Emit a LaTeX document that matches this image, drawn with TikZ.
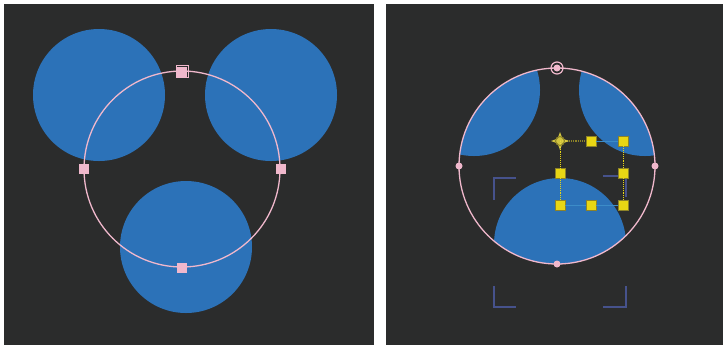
\documentclass[tikz,border=0pt]{standalone}
\usetikzlibrary{shapes.geometric}
\definecolor{bg}{RGB}{43,44,44}
\definecolor{blu}{RGB}{44,114,184}
\definecolor{pnk}{RGB}{240,184,204}
\definecolor{ylw}{RGB}{232,214,20}
\definecolor{oliv}{RGB}{140,130,40}
\definecolor{lblu}{RGB}{60,140,200}
\definecolor{brk}{RGB}{70,82,140}
\tikzset{
  sqh/.style={draw=none,fill=pnk,minimum size=10pt,inner sep=0pt},
  doth/.style={circle,fill=pnk,minimum size=7pt,inner sep=0pt},
  yh/.style={draw=oliv,line width=0.5pt,fill=ylw,minimum size=10pt,inner sep=0pt},
  ring/.style={draw=pnk,line width=1.3pt},
  dotl/.style={draw=ylw,densely dotted,line width=0.9pt},
  bl/.style={draw=lblu,line width=1pt},
  bracket/.style={draw=brk,line width=2.4pt}
}
\begin{document}
\begin{tikzpicture}[x=1pt,y=-1pt]
\useasboundingbox (0,0) rectangle (727,349);
\fill[white] (0,0) rectangle (727,349);
\fill[bg] (4,4) rectangle (374,345);
\fill[bg] (386,4) rectangle (723,345);
% left panel
\fill[blu] (99,95) circle (66);
\fill[blu] (271,95) circle (66);
\fill[blu] (186,247) circle (66);
\draw[ring] (182,169) circle (98);
\node[sqh] (lt) at (182,72) {};
\draw[pnk,line width=0.8pt] (176,65.5) rectangle (188.5,77.5);
\node[sqh] (ll) at (84,169) {};
\node[sqh] (lr) at (281,169) {};
\node[sqh] (lb) at (182,268) {};
% right panel
\begin{scope}
\clip (557,166) circle (98);
\fill[blu] (474,90) circle (66);
\fill[blu] (645,90) circle (66);
\fill[blu] (560,244) circle (66);
\end{scope}
\draw[ring] (557,166) circle (98);
\node[circle,fill=pnk,minimum size=7pt,inner sep=0pt] (rt) at (557,68) {};
\draw[pnk,line width=1.2pt] (rt) circle (6);
\node[doth] (rl) at (459,166) {};
\node[doth] (rr) at (655,166) {};
\node[doth] (rb) at (557,264) {};
% brackets
\draw[bracket] (516,178) -- (494,178) -- (494,200);
\draw[bracket] (603,176) -- (626,176) -- (626,197);
\draw[bracket] (494,286) -- (494,307) -- (516,307);
\draw[bracket] (626,286) -- (626,307) -- (603,307);
% yellow handles
\coordinate (ya) at (560,141);
\node[yh] (yb) at (591,141) {};
\node[yh] (yc) at (623,141) {};
\node[yh] (yd) at (560,173) {};
\node[yh] (ye) at (623,173) {};
\node[yh] (yf) at (560,205) {};
\node[yh] (yg) at (591,205) {};
\node[yh] (yh2) at (623,205) {};
\draw[draw=oliv,line width=1.2pt,densely dotted] (ya) -- (yb);
\draw[bl] (yb) -- (yc);
\draw[dotl] (yc) -- (ye);
\draw[dotl] (ye) -- (yh2);
\draw[dotl] (ya) -- (yd);
\draw[dotl] (yd) -- (yf);
\draw[bl] (yf) -- (yg);
\draw[bl] (yg) -- (yh2);
\node[star,star points=4,star point ratio=2.6,fill=ylw!80!white,minimum size=18pt,inner sep=0pt,opacity=0.85] (ystar) at (ya) {};
\draw[oliv,line width=1pt] (ya) circle (4.5);
\end{tikzpicture}
\end{document}
